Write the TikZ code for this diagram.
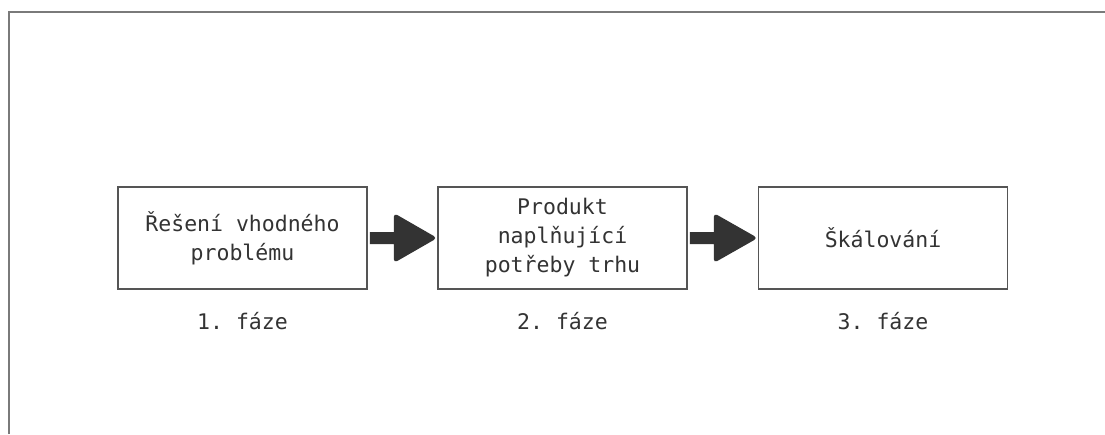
\documentclass[tikz,border=0pt]{standalone}
\usepackage{fontspec}
\setmonofont{DejaVu Sans Mono}
\usetikzlibrary{calc}
\definecolor{framec}{HTML}{7A7A7A}
\definecolor{boxc}{HTML}{555555}
\definecolor{textc}{HTML}{333333}
\definecolor{arrowc}{HTML}{333333}
\tikzset{
  stagebox/.style={draw=boxc, line width=1.5pt, minimum width=249pt, minimum height=102pt,
    inner sep=0pt, align=center, text=textc, font=\ttfamily\fontsize{21.5pt}{29pt}\selectfont},
  phase/.style={text=textc, font=\ttfamily\fontsize{21.5pt}{29pt}\selectfont, inner sep=0pt},
  bigarrow/.style={fill=arrowc}
}
\newcommand{\fatarrow}[2]{%
  \fill[bigarrow] ($(#1.east)+(2,-6)$) -- ($(#1.east)+(26,-6)$)
    [rounded corners=4pt] -- ($(#1.east)+(26,-25)$) -- (#2.west) -- ($(#1.east)+(26,25)$)
    [sharp corners] -- ($(#1.east)+(26,6)$) -- ($(#1.east)+(2,6)$) -- cycle;}
\begin{document}
\begin{tikzpicture}[x=1pt,y=-1pt]
\useasboundingbox (0,0) rectangle (1105,434);
\fill[white] (0,0) rectangle (1105,434);
\draw[framec, line width=2pt] (8.5,434) -- (8.5,11.5) -- (1105,11.5);
\node[stagebox] (b1) at (242.5,238) {Řešení vhodného\\problému};
\node[stagebox] (b2) at (562.5,238) {Produkt\\naplňující\\potřeby trhu};
\node[stagebox] (b3) at (883,238) {Škálování};
\node[phase] (p1) at (242.5,321) {1. fáze};
\node[phase] (p2) at (562.5,321) {2. fáze};
\node[phase] (p3) at (883,321) {3. fáze};
\fatarrow{b1}{b2}
\fatarrow{b2}{b3}
\end{tikzpicture}
\end{document}
